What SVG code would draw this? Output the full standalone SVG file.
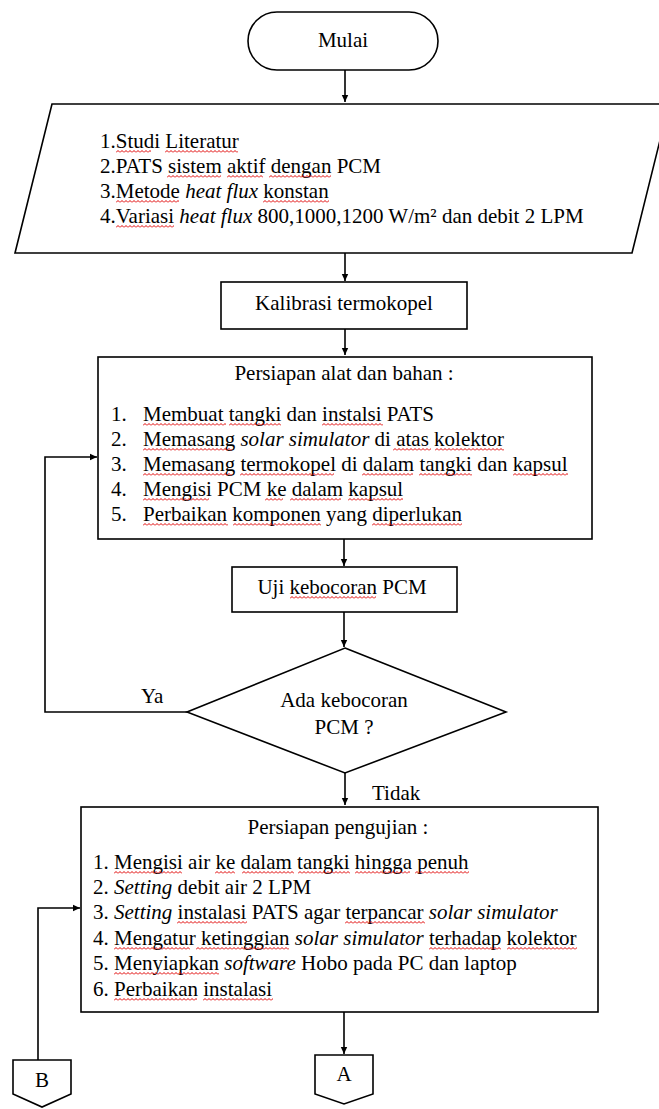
<svg xmlns="http://www.w3.org/2000/svg" width="659" height="1109" viewBox="0 0 659 1109">
<defs>
<marker id="ah" markerWidth="8" markerHeight="8" refX="7" refY="4" orient="auto" markerUnits="userSpaceOnUse">
<path d="M0,0.8 L7,4 L0,7.2 Z" fill="#000"/>
</marker>
<pattern id="wv" patternUnits="userSpaceOnUse" width="4" height="3">
<path d="M0,2.5 L2,0.5 L4,2.5" fill="none" stroke="#e00000" stroke-width="1"/>
</pattern>
<style>
.sh{fill:#fff;stroke:#000;stroke-width:1.6}
.t{font-family:"Liberation Serif","Times New Roman",serif;font-size:21px;fill:#000}
.c{text-anchor:middle}
.i{font-style:italic}
.ln{fill:none;stroke:#000;stroke-width:1.6}
.w{fill:url(#wv)}
</style>
</defs>
<rect width="659" height="1109" fill="#fff"/>
<g id="connectors">
<path class="ln" d="M345,70 V102" marker-end="url(#ah)"/>
<path class="ln" d="M345,253 V281" marker-end="url(#ah)"/>
<path class="ln" d="M345,329 V355" marker-end="url(#ah)"/>
<path class="ln" d="M344,539 V566" marker-end="url(#ah)"/>
<path class="ln" d="M344,612 V647" marker-end="url(#ah)"/>
<path class="ln" d="M345,773 V805" marker-end="url(#ah)"/>
<path class="ln" d="M187,712 H45 V457 H97" marker-end="url(#ah)"/>
<path class="ln" d="M38,1060 V908 H80" marker-end="url(#ah)"/>
<path class="ln" d="M344,1012 V1054" marker-end="url(#ah)"/>
<text class="t" x="141" y="703">Ya</text>
<text class="t" x="372" y="800">Tidak</text>
</g>
<g id="start">
<rect class="sh" x="248" y="12" width="190" height="58" rx="29"/>
<text class="t c" x="343" y="47">Mulai</text>
</g>
<g id="input">
<polygon class="sh" points="52,104 669,104 632,253 15,253"/>
<text class="t" x="100" y="148">1.Studi Literatur</text>
<text class="t" x="100" y="173">2.PATS sistem aktif dengan PCM</text>
<text class="t" x="100" y="198">3.Metode <tspan class="i">heat flux</tspan> konstan</text>
<text class="t" x="100" y="223">4.Variasi <tspan class="i">heat flux</tspan> 800,1000,1200 W/m² dan debit 2 LPM</text>
</g>
<g id="kalibrasi">
<rect class="sh" x="221" y="282" width="246" height="47"/>
<text class="t c" x="344" y="310">Kalibrasi termokopel</text>
</g>
<g id="persiapan-alat">
<rect class="sh" x="98" y="357" width="494" height="182"/>
<text class="t c" x="344" y="380">Persiapan alat dan bahan :</text>
<text class="t" x="111" y="421">1.</text><text class="t" x="143" y="421">Membuat tangki dan instalsi PATS</text>
<text class="t" x="111" y="446">2.</text><text class="t" x="143" y="446">Memasang <tspan class="i">solar simulator</tspan> di atas kolektor</text>
<text class="t" x="111" y="471">3.</text><text class="t" x="143" y="471">Memasang termokopel di dalam tangki dan kapsul</text>
<text class="t" x="111" y="496">4.</text><text class="t" x="143" y="496">Mengisi PCM ke dalam kapsul</text>
<text class="t" x="111" y="521">5.</text><text class="t" x="143" y="521">Perbaikan komponen yang diperlukan</text>
</g>
<g id="uji">
<rect class="sh" x="232" y="567" width="225" height="45"/>
<text class="t c" x="342" y="594">Uji kebocoran PCM</text>
</g>
<g id="decision">
<polygon class="sh" points="345,648 506,712 345,773 187,712"/>
<text class="t c" x="344" y="707">Ada kebocoran</text>
<text class="t c" x="344" y="734">PCM ?</text>
</g>
<g id="persiapan-uji">
<rect class="sh" x="81" y="807" width="517" height="205"/>
<text class="t c" x="338" y="834">Persiapan pengujian :</text>
<text class="t" x="93" y="869">1. Mengisi air ke dalam tangki hingga penuh</text>
<text class="t" x="93" y="894">2. <tspan class="i">Setting</tspan> debit air 2 LPM</text>
<text class="t" x="93" y="919">3. <tspan class="i">Setting</tspan> instalasi PATS agar terpancar <tspan class="i">solar simulator</tspan></text>
<text class="t" x="93" y="945">4. Mengatur ketinggian <tspan class="i">solar simulator</tspan> terhadap kolektor</text>
<text class="t" x="93" y="970">5. Menyiapkan <tspan class="i">software</tspan> Hobo pada PC dan laptop</text>
<text class="t" x="93" y="996">6. Perbaikan instalasi</text>
</g>
<g id="conn-A">
<polygon class="sh" points="315,1055 373,1055 373,1094 344,1104 315,1094"/>
<text class="t c" x="344" y="1081">A</text>
</g>
<g id="conn-B">
<polygon class="sh" points="13,1060 71,1060 71,1094 42,1107 13,1094"/>
<text class="t c" x="42" y="1087">B</text>
</g>
<g id="spellcheck-marks">
<rect class="w" transform="translate(116,150)" width="35" height="3"/>
<rect class="w" transform="translate(165,150)" width="73" height="3"/>
<rect class="w" transform="translate(167,175)" width="54" height="3"/>
<rect class="w" transform="translate(227,175)" width="36" height="3"/>
<rect class="w" transform="translate(269,175)" width="62" height="3"/>
<rect class="w" transform="translate(116,200)" width="63" height="3"/>
<rect class="w" transform="translate(263,200)" width="66" height="3"/>
<rect class="w" transform="translate(116,225)" width="58" height="3"/>
<rect class="w" transform="translate(143,423)" width="83" height="3"/>
<rect class="w" transform="translate(229,423)" width="52" height="3"/>
<rect class="w" transform="translate(322,423)" width="61" height="3"/>
<rect class="w" transform="translate(143,448)" width="89" height="3"/>
<rect class="w" transform="translate(393,448)" width="38" height="3"/>
<rect class="w" transform="translate(435,448)" width="69" height="3"/>
<rect class="w" transform="translate(143,473)" width="89" height="3"/>
<rect class="w" transform="translate(240,473)" width="94" height="3"/>
<rect class="w" transform="translate(362,473)" width="51" height="3"/>
<rect class="w" transform="translate(419,473)" width="53" height="3"/>
<rect class="w" transform="translate(513,473)" width="55" height="3"/>
<rect class="w" transform="translate(143,498)" width="66" height="3"/>
<rect class="w" transform="translate(265,498)" width="18" height="3"/>
<rect class="w" transform="translate(290,498)" width="51" height="3"/>
<rect class="w" transform="translate(348,498)" width="55" height="3"/>
<rect class="w" transform="translate(143,523)" width="85" height="3"/>
<rect class="w" transform="translate(233,523)" width="88" height="3"/>
<rect class="w" transform="translate(372,523)" width="90" height="3"/>
<rect class="w" transform="translate(290,596)" width="86" height="3"/>
<rect class="w" transform="translate(114,871)" width="68" height="3"/>
<rect class="w" transform="translate(215,871)" width="20" height="3"/>
<rect class="w" transform="translate(242,871)" width="52" height="3"/>
<rect class="w" transform="translate(298,871)" width="52" height="3"/>
<rect class="w" transform="translate(355,871)" width="55" height="3"/>
<rect class="w" transform="translate(415,871)" width="54" height="3"/>
<rect class="w" transform="translate(177,921)" width="70" height="3"/>
<rect class="w" transform="translate(345,921)" width="80" height="3"/>
<rect class="w" transform="translate(114,947)" width="76" height="3"/>
<rect class="w" transform="translate(196,947)" width="93" height="3"/>
<rect class="w" transform="translate(429,947)" width="72" height="3"/>
<rect class="w" transform="translate(507,947)" width="70" height="3"/>
<rect class="w" transform="translate(114,972)" width="105" height="3"/>
<rect class="w" transform="translate(114,998)" width="83" height="3"/>
<rect class="w" transform="translate(203,998)" width="70" height="3"/>
</g>
</svg>
